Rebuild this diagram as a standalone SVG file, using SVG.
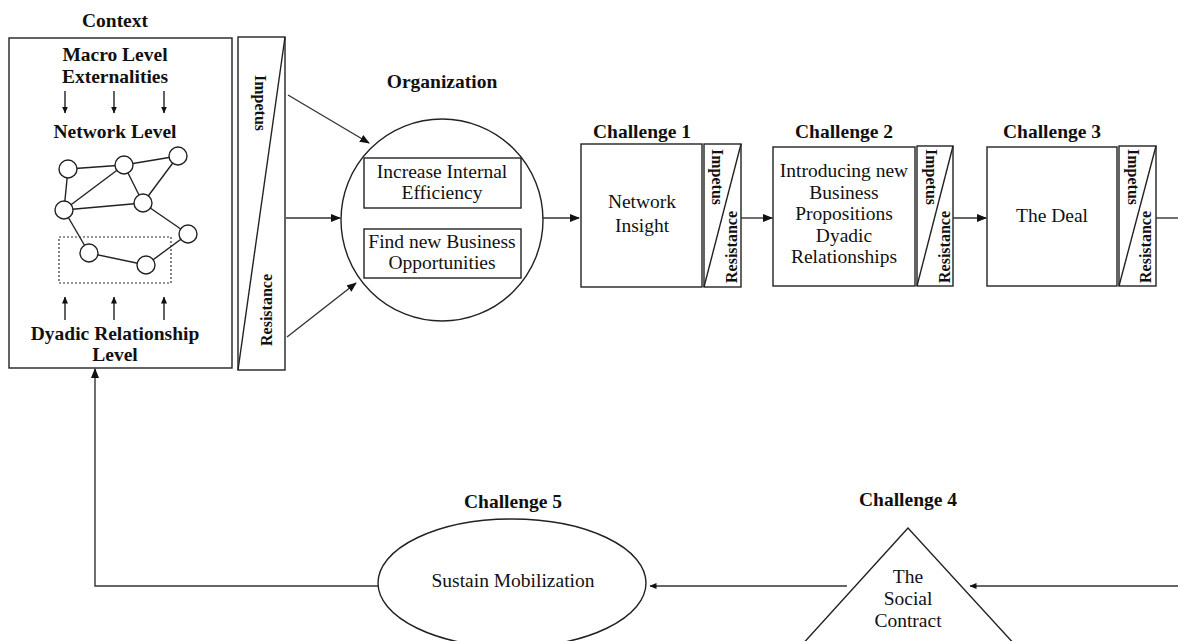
<svg xmlns="http://www.w3.org/2000/svg" width="1178" height="641" viewBox="0 0 1178 641">
<defs>
<style>
.s{fill:#fff;stroke:#222;stroke-width:1.4}
.n{fill:none;stroke:#222;stroke-width:1.4}
.c{fill:none;stroke:#333;stroke-width:1.4}
.b{font-family:"Liberation Serif",serif;font-weight:bold;font-size:19.5px;fill:#111;text-anchor:middle}
.r{font-family:"Liberation Serif",serif;font-size:19.5px;fill:#111;text-anchor:middle}
.v{font-family:"Liberation Serif",serif;font-weight:bold;font-size:16px;fill:#111;text-anchor:middle}
</style>
<marker id="ah" markerWidth="10" markerHeight="8" refX="9" refY="4" orient="auto" markerUnits="userSpaceOnUse">
<path d="M0,0 L10,4 L0,8 z" fill="#111"/>
</marker>
<marker id="as" markerWidth="7" markerHeight="6" refX="6.5" refY="3" orient="auto" markerUnits="userSpaceOnUse">
<path d="M0,0 L7,3 L0,6 z" fill="#111"/>
</marker>
</defs>
<rect width="1178" height="641" fill="#fff"/>

<g id="context">
<text class="b" x="115" y="27">Context</text>
<rect class="s" x="9" y="38" width="223" height="330"/>
<text class="b" x="115" y="61">Macro Level</text>
<text class="b" x="115" y="83">Externalities</text>
<line class="n" x1="65" y1="91" x2="65" y2="113" marker-end="url(#as)"/>
<line class="n" x1="114" y1="91" x2="114" y2="113" marker-end="url(#as)"/>
<line class="n" x1="164" y1="91" x2="164" y2="113" marker-end="url(#as)"/>
<text class="b" x="115" y="138">Network Level</text>
<g id="network">
<line class="n" x1="68" y1="169" x2="124" y2="165"/>
<line class="n" x1="124" y1="165" x2="178" y2="156"/>
<line class="n" x1="68" y1="169" x2="64" y2="210"/>
<line class="n" x1="64" y1="210" x2="124" y2="165"/>
<line class="n" x1="64" y1="210" x2="143" y2="203"/>
<line class="n" x1="124" y1="165" x2="143" y2="203"/>
<line class="n" x1="178" y1="156" x2="143" y2="203"/>
<line class="n" x1="143" y1="203" x2="188" y2="234"/>
<line class="n" x1="64" y1="210" x2="89" y2="253"/>
<line class="n" x1="89" y1="253" x2="146" y2="265"/>
<line class="n" x1="146" y1="265" x2="188" y2="234"/>
<circle class="s" cx="68" cy="169" r="9"/>
<circle class="s" cx="124" cy="165" r="9"/>
<circle class="s" cx="178" cy="156" r="9"/>
<circle class="s" cx="64" cy="210" r="9"/>
<circle class="s" cx="143" cy="203" r="9"/>
<circle class="s" cx="188" cy="234" r="9"/>
<circle class="s" cx="89" cy="253" r="9"/>
<circle class="s" cx="146" cy="265" r="9"/>
<rect x="59" y="237" width="112" height="46" fill="none" stroke="#333" stroke-width="1.2" stroke-dasharray="2,2"/>
</g>
<line class="n" x1="65" y1="320" x2="65" y2="297" marker-end="url(#as)"/>
<line class="n" x1="114" y1="320" x2="114" y2="297" marker-end="url(#as)"/>
<line class="n" x1="164" y1="320" x2="164" y2="297" marker-end="url(#as)"/>
<text class="b" x="115" y="340">Dyadic Relationship</text>
<text class="b" x="115" y="361">Level</text>
</g>

<g id="context-strip">
<rect class="s" x="238" y="37" width="47" height="333"/>
<line class="n" x1="285" y1="37" x2="238" y2="370"/>
<text class="v" transform="translate(260,103) rotate(90)" y="5.5">Impetus</text>
<text class="v" transform="translate(266,310) rotate(-90)" y="5.5">Resistance</text>
</g>

<g id="organization">
<text class="b" x="442" y="88">Organization</text>
<circle class="s" cx="442" cy="220" r="101"/>
<rect class="s" x="364" y="158" width="157" height="50"/>
<text class="r" x="442" y="178">Increase Internal</text>
<text class="r" x="442" y="199">Efficiency</text>
<rect class="s" x="364" y="229" width="157" height="49"/>
<text class="r" x="442" y="248">Find new Business</text>
<text class="r" x="442" y="269">Opportunities</text>
</g>

<g id="challenge1">
<text class="b" x="642" y="138">Challenge 1</text>
<rect class="s" x="581" y="144" width="121" height="143"/>
<text class="r" x="642" y="208">Network</text>
<text class="r" x="642" y="232">Insight</text>
<rect class="s" x="704" y="144" width="37" height="143"/>
<line class="n" x1="741" y1="144" x2="704" y2="287"/>
<text class="v" transform="translate(717,177) rotate(90)" y="5.5">Impetus</text>
<text class="v" transform="translate(731,247) rotate(-90)" y="5.5">Resistance</text>
</g>

<g id="challenge2">
<text class="b" x="844" y="138">Challenge 2</text>
<rect class="s" x="773" y="147" width="142" height="139"/>
<text class="r" x="844" y="177">Introducing new</text>
<text class="r" x="844" y="199">Business</text>
<text class="r" x="844" y="220">Propositions</text>
<text class="r" x="844" y="242">Dyadic</text>
<text class="r" x="844" y="263">Relationships</text>
<rect class="s" x="917" y="146" width="36" height="140"/>
<line class="n" x1="953" y1="146" x2="917" y2="286"/>
<text class="v" transform="translate(931,177) rotate(90)" y="5.5">Impetus</text>
<text class="v" transform="translate(944,247) rotate(-90)" y="5.5">Resistance</text>
</g>

<g id="challenge3">
<text class="b" x="1052" y="138">Challenge 3</text>
<rect class="s" x="987" y="147" width="130" height="139"/>
<text class="r" x="1052" y="222">The Deal</text>
<rect class="s" x="1119" y="146" width="37" height="140"/>
<line class="n" x1="1156" y1="146" x2="1119" y2="286"/>
<text class="v" transform="translate(1133,177) rotate(90)" y="5.5">Impetus</text>
<text class="v" transform="translate(1145,247) rotate(-90)" y="5.5">Resistance</text>
</g>

<g id="challenge4">
<text class="b" x="908" y="506">Challenge 4</text>
<polygon class="s" points="908,528 790,658 1027,658"/>
<text class="r" x="908" y="583">The</text>
<text class="r" x="908" y="605">Social</text>
<text class="r" x="908" y="627">Contract</text>
</g>

<g id="challenge5">
<text class="b" x="513" y="508">Challenge 5</text>
<ellipse class="s" cx="512" cy="583" rx="134" ry="64"/>
<text class="r" x="513" y="587">Sustain Mobilization</text>
</g>

<g id="connectors">
<line class="c" x1="288" y1="95" x2="369" y2="143" marker-end="url(#ah)"/>
<line class="c" x1="286" y1="218" x2="340" y2="218" marker-end="url(#ah)"/>
<line class="c" x1="287" y1="337" x2="356" y2="283" marker-end="url(#ah)"/>
<line class="c" x1="543" y1="218" x2="579" y2="218" marker-end="url(#ah)"/>
<line class="c" x1="741" y1="218" x2="772" y2="218" marker-end="url(#ah)"/>
<line class="c" x1="953" y1="218" x2="986" y2="218" marker-end="url(#ah)"/>
<line class="c" x1="1156" y1="218" x2="1178" y2="218"/>
<line class="c" x1="1178" y1="586" x2="970" y2="586" marker-end="url(#as)"/>
<line class="c" x1="847" y1="586" x2="650" y2="586" marker-end="url(#as)"/>
<polyline class="c" points="378,586 95,586 95,369" marker-end="url(#ah)"/>
</g>
</svg>
